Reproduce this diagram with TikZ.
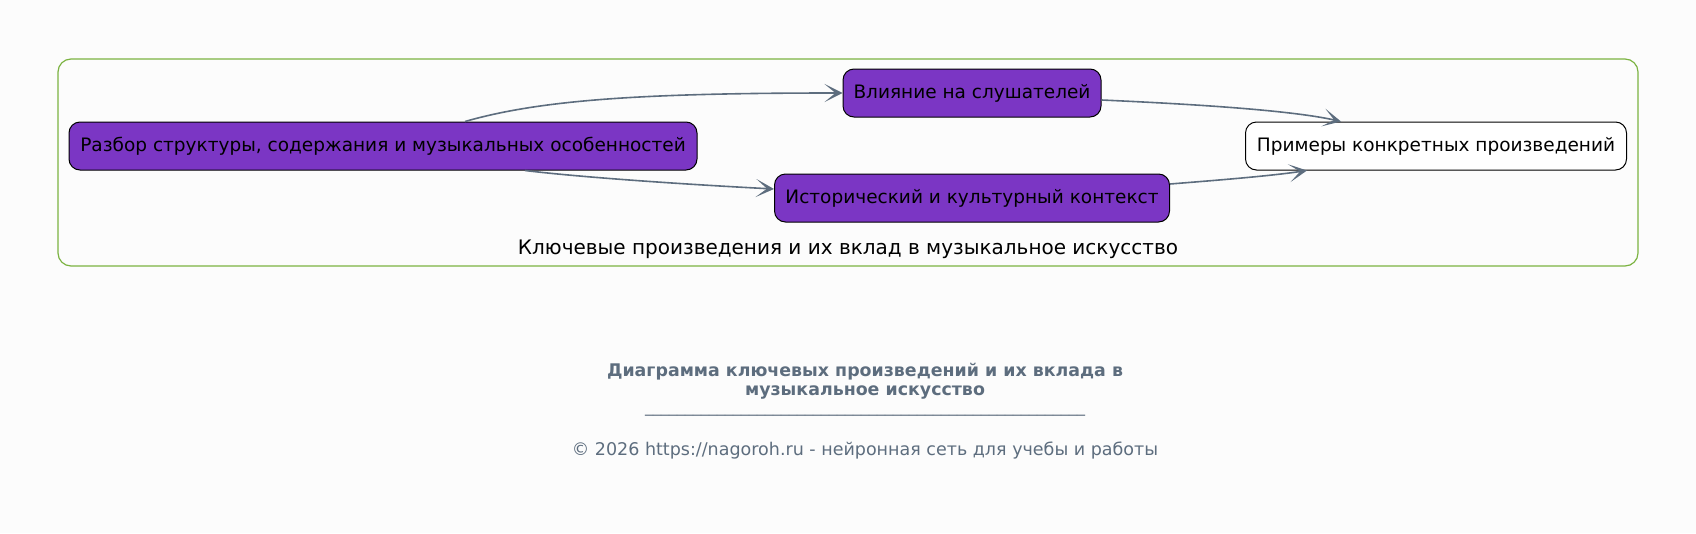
\documentclass[tikz,border=0pt]{standalone}
\usepackage{fontspec}
\setmainfont{DejaVu Sans}
\usetikzlibrary{arrows.meta}
\definecolor{bg}{RGB}{252,252,252}
\definecolor{clgreen}{RGB}{124,179,66}
\definecolor{purp}{RGB}{123,54,196}
\definecolor{slate}{RGB}{93,109,126}
\tikzset{
  box/.style={draw=black, line width=1pt, rounded corners=11pt, minimum height=48pt, inner sep=0pt, font=\fontsize{18.5pt}{22pt}\selectfont, text=black},
  pbox/.style={box, fill=purp},
  wbox/.style={box, fill=white},
  conn/.style={draw=slate, line width=1.6pt, -{Stealth[length=18pt,width=18pt,inset=11pt,fill=slate]}},
}
\begin{document}
\begin{tikzpicture}[x=1pt,y=-1pt]
\fill[bg] (0,0) rectangle (1696,533);
\useasboundingbox (0,0) rectangle (1696,533);
\draw[clgreen, line width=1.2pt, rounded corners=13pt] (58,59) rectangle (1638,266);
\node[pbox, minimum width=628pt] (A) at (383,146) {Разбор структуры, содержания и музыкальных особенностей};
\node[pbox, minimum width=258pt] (B) at (972,93) {Влияние на слушателей};
\node[pbox, minimum width=395pt] (C) at (972,198) {Исторический и культурный контекст};
\node[wbox, minimum width=381pt] (D) at (1436,146) {Примеры конкретных произведений};
\node[font=\fontsize{20pt}{24pt}\selectfont] (L) at (848,249) {Ключевые произведения и их вклад в музыкальное искусство};
\draw[conn] ([xshift=82pt]A.north) .. controls (540,100) and (640,93) .. (B.west);
\draw[conn] ([xshift=142pt]A.south) .. controls (570,176) and (660,183) .. ([yshift=9pt]C.west);
\draw[conn] ([yshift=-7pt]B.east) .. controls (1190,104) and (1290,110) .. ([xshift=-95pt]D.north);
\draw[conn] ([yshift=14pt]C.east) .. controls (1220,180) and (1270,176) .. ([xshift=-129pt]D.south);
\node[text=slate, font=\bfseries\fontsize{17.4pt}{19pt}\selectfont, align=center] (T) at (865,381.5) {Диаграмма ключевых произведений и их вклада в\\музыкальное искусство};
\node[text=slate, font=\fontsize{16pt}{18pt}\selectfont] (U) at (865,414) {\_\_\_\_\_\_\_\_\_\_\_\_\_\_\_\_\_\_\_\_\_\_\_\_\_\_\_\_\_\_\_\_\_\_\_\_\_\_\_\_\_\_\_\_\_\_\_\_\_\_\_\_\_\_\_};
\node[text=slate, font=\fontsize{17.5pt}{20pt}\selectfont] (F) at (865,451) {© 2026 https://nagoroh.ru - нейронная сеть для учебы и работы};
\end{tikzpicture}
\end{document}
